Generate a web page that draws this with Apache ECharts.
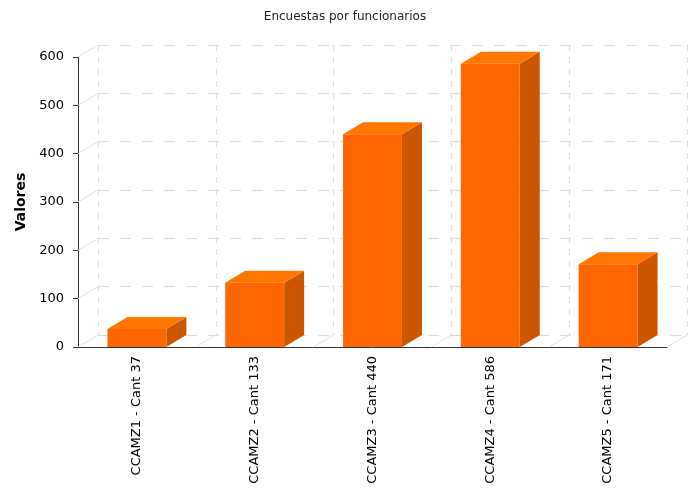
<!DOCTYPE html>
<html><head><meta charset="utf-8">
<script src="https://cdn.jsdelivr.net/npm/echarts@6/dist/echarts.min.js"></script>
<style>html,body{margin:0;padding:0;background:#fff}#c{width:690px;height:489px}</style>
</head><body><div id="c"></div>
<script>
const categories = ['CCAMZ1 - Cant 37','CCAMZ2 - Cant 133','CCAMZ3 - Cant 440','CCAMZ4 - Cant 586','CCAMZ5 - Cant 171'];
const values = [37, 133, 440, 586, 171];
const yTicks = [0, 100, 200, 300, 400, 500, 600];

const DX = 20, DY = -12;
const FONT = 'DejaVu Sans, Verdana, sans-serif';
const chart = echarts.init(document.getElementById('c'));

function barItem(params, api) {
  const ci = api.value(0), v = api.value(1);
  const top = api.coord([ci, v]);
  const base = api.coord([ci, 0]);
  const bw = api.size([1, 0])[0] * 0.5;
  const x0 = top[0] - bw / 2, x1 = top[0] + bw / 2;
  const yt = top[1], yb = base[1];
  return {
    type: 'group',
    children: [
      { type: 'polygon', shape: { points: [[x1, yt], [x1 + DX, yt + DY], [x1 + DX, yb + DY], [x1, yb]] }, style: { fill: '#CC5500' } },
      { type: 'polygon', shape: { points: [[x0, yt], [x0 + DX, yt + DY], [x1 + DX, yt + DY], [x1, yt]] }, style: { fill: '#FF7700' } },
      { type: 'rect', shape: { x: x0, y: yt, width: bw, height: yb - yt }, style: { fill: '#FF6600' } }
    ]
  };
}

function yDiagItem(params, api) {
  const cs = params.coordSys;
  const p = api.coord([0, api.value(1)]);
  const x = cs.x;
  return { type: 'line', shape: { x1: x, y1: p[1], x2: x + DX, y2: p[1] + DY }, style: { stroke: '#e0e0e0', lineWidth: 1 } };
}
function xDiagItem(params, api) {
  const cs = params.coordSys;
  const i = api.value(0);
  const w = cs.width / categories.length;
  const x = cs.x + w * (i + 1);
  const y = cs.y + cs.height;
  return { type: 'line', shape: { x1: x, y1: y, x2: x + DX, y2: y + DY }, style: { stroke: '#e0e0e0', lineWidth: 1 } };
}

const gL = 78, gR = 23, gT = 57, gB = 142;
chart.setOption({
  animation: false,
  title: { text: 'Encuestas por funcionarios', left: 'center', top: 6, textStyle: { fontFamily: FONT, fontSize: 12, fontWeight: 'normal', color: '#222' } },
  grid: [
    { left: gL + DX, right: gR - DX, top: gT + DY, bottom: gB - DY, show: false },
    { left: gL, right: gR, top: gT, bottom: gB }
  ],
  xAxis: [
    { gridIndex: 0, type: 'category', data: categories, axisLine: { show: false }, axisTick: { show: false }, axisLabel: { show: false },
      splitLine: { show: true, interval: 0, showMinLine: true, showMaxLine: true, lineStyle: { color: '#dedede', type: [6, 6], width: 1.2 } } },
    { gridIndex: 1, type: 'category', data: categories,
      axisLine: { lineStyle: { color: '#333', width: 1 } },
      axisTick: { alignWithLabel: true, length: 5, lineStyle: { color: '#333' } },
      axisLabel: { rotate: 90, fontFamily: FONT, fontSize: 13, color: '#000', margin: 9, interval: 0 },
      splitLine: { show: false } }
  ],
  yAxis: [
    { gridIndex: 0, type: 'value', min: 0, max: 600, interval: 100, axisLine: { show: false }, axisTick: { show: false }, axisLabel: { show: false },
      splitLine: { show: true, lineStyle: { color: '#dedede', type: [11, 11], width: 1.2 } } },
    { gridIndex: 1, type: 'value', min: 0, max: 600, interval: 100,
      name: 'Valores', nameLocation: 'middle', nameGap: 50, nameRotate: 90,
      nameTextStyle: { fontFamily: FONT, fontSize: 14, fontWeight: 'bold', color: '#000' },
      axisLine: { show: true, lineStyle: { color: '#333', width: 1 } },
      axisTick: { show: true, length: 5, lineStyle: { color: '#333' } },
      axisLabel: { fontFamily: FONT, fontSize: 13, color: '#000', margin: 14 },
      splitLine: { show: false } }
  ],
  series: [
    { type: 'custom', xAxisIndex: 1, yAxisIndex: 1, renderItem: yDiagItem, data: yTicks.map(v => [0, v]), silent: true, z: 1 },
    { type: 'custom', xAxisIndex: 1, yAxisIndex: 1, renderItem: xDiagItem, data: categories.map((c, i) => [i, 0]), silent: true, z: 1 },
    { type: 'custom', xAxisIndex: 1, yAxisIndex: 1, renderItem: barItem, data: values.map((v, i) => [i, v]), z: 3 }
  ]
});
</script></body></html>
